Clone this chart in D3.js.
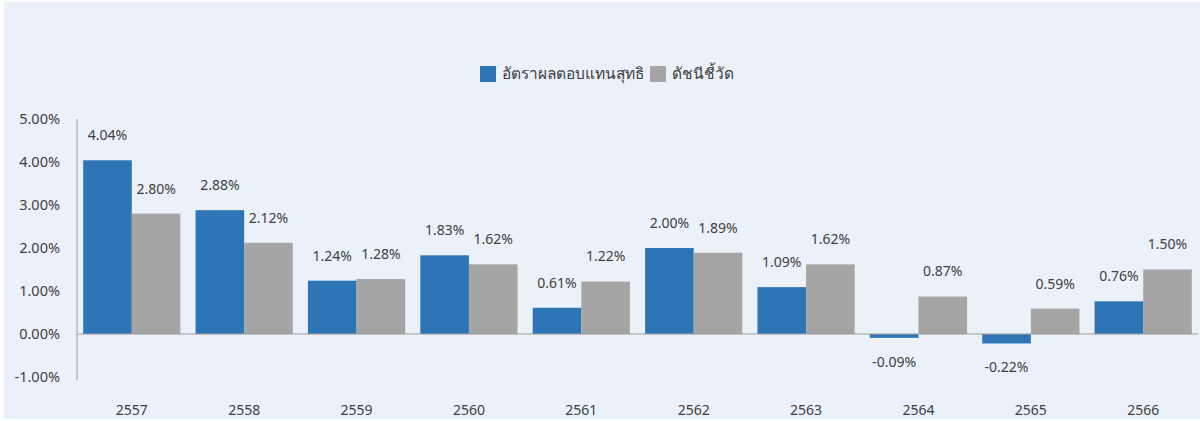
<!DOCTYPE html>
<html lang="th">
<head>
<meta charset="UTF-8">
<title>อัตราผลตอบแทนสุทธิ</title>
<script src="https://d3js.org/d3.v7.min.js"></script>
<style>
  html, body { margin: 0; padding: 0; background: #ffffff; }
  svg { display: block; font-family: "Noto Sans", "DejaVu Sans", sans-serif; }
</style>
</head>
<body>
<div id="chart"></div>
<script>
// data
const years = ["2557", "2558", "2559", "2560", "2561", "2562", "2563", "2564", "2565", "2566"];
const fundReturn = [4.04, 2.88, 1.24, 1.83, 0.61, 2.00, 1.09, -0.09, -0.22, 0.76];
const benchmark = [2.80, 2.12, 1.28, 1.62, 1.22, 1.89, 1.62, 0.87, 0.59, 1.50];
const seriesNames = ["อัตราผลตอบแทนสุทธิ", "ดัชนีชี้วัด"];
const yTicks = [-1, 0, 1, 2, 3, 4, 5];

const width = 1200, height = 421;
const colors = ["#2E75B6", "#A5A5A5"];
const textColor = "#404040";
const pct = d => d.toFixed(2) + "%";   // plain hyphen for negatives, like the source

const svg = d3.select("#chart").append("svg")
  .attr("width", width)
  .attr("height", height);

// panel background
svg.append("rect")
  .attr("x", 4).attr("y", 2)
  .attr("width", width - 4).attr("height", 417)
  .attr("fill", "#EBF1F9");

const x = d3.scaleBand()
  .domain(years)
  .range([77, 1198])
  .paddingInner(0.135)
  .paddingOuter(0.055);

const xs = d3.scaleBand()
  .domain([0, 1])
  .range([0, x.bandwidth()]);

const y = d3.scaleLinear()
  .domain([-1, 5])
  .range([377, 119]);

// y axis labels
svg.append("g")
  .selectAll("text")
  .data(yTicks)
  .join("text")
  .attr("x", 60)
  .attr("y", d => y(d))
  .attr("dy", "0.35em")
  .attr("text-anchor", "end")
  .attr("font-size", 14.5)
  .attr("fill", textColor)
  .text(pct);

// bars + value labels
const series = [fundReturn, benchmark];
series.forEach((vals, s) => {
  svg.append("g")
    .selectAll("rect")
    .data(vals)
    .join("rect")
    .attr("x", (d, i) => x(years[i]) + xs(s))
    .attr("y", d => y(Math.max(0, d)))
    .attr("width", xs.bandwidth())
    .attr("height", d => Math.abs(y(d) - y(0)))
    .attr("fill", colors[s]);

  svg.append("g")
    .selectAll("text")
    .data(vals)
    .join("text")
    .attr("x", (d, i) => x(years[i]) + xs(s) + xs.bandwidth() / 2)
    .attr("y", d => d >= 0 ? y(d) - 25 : y(d) + 24)
    .attr("dy", "0.35em")
    .attr("text-anchor", "middle")
    .attr("font-size", 14)
    .attr("fill", textColor)
    .text(pct);
});

// axis lines
svg.append("line")
  .attr("x1", 77).attr("x2", 77)
  .attr("y1", 119).attr("y2", 380)
  .attr("stroke", "#9a9a9a").attr("stroke-width", 1);

svg.append("line")
  .attr("x1", 77).attr("x2", 1198)
  .attr("y1", y(0)).attr("y2", y(0))
  .attr("stroke", "#9a9a9a").attr("stroke-width", 1);

// x labels
svg.append("g")
  .selectAll("text")
  .data(years)
  .join("text")
  .attr("x", d => x(d) + x.bandwidth() / 2)
  .attr("y", 410)
  .attr("dy", "0.35em")
  .attr("text-anchor", "middle")
  .attr("font-size", 14)
  .attr("fill", textColor)
  .text(d => d);

// legend
const legend = svg.append("g").attr("transform", "translate(480,74)");
let lx = 0;
seriesNames.forEach((name, i) => {
  legend.append("rect")
    .attr("x", lx).attr("y", -8)
    .attr("width", 16).attr("height", 16)
    .attr("fill", colors[i]);
  const t = legend.append("text")
    .attr("x", lx + 22).attr("y", 0)
    .attr("dy", "0.35em")
    .attr("font-size", 15.5)
    .attr("fill", textColor)
    .text(name);
  lx += 22 + t.node().getComputedTextLength() + 6;
});
</script>
</body>
</html>
